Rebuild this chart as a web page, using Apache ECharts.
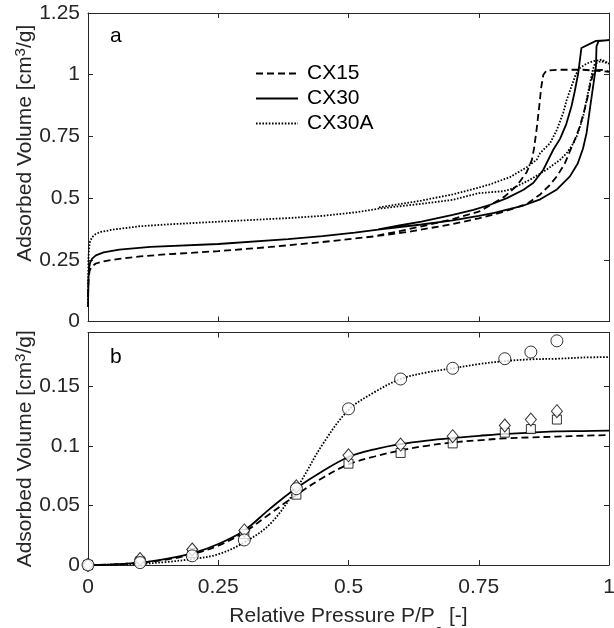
<!DOCTYPE html>
<html><head><meta charset="utf-8">
<script src="https://cdn.jsdelivr.net/npm/echarts@6/dist/echarts.min.js"></script>
<style>html,body{margin:0;padding:0;background:#fff}#c{width:614px;height:628px}</style>
</head><body><div id="c"></div>
<script>
// ---- Panel a: isotherms [P/P0, volume] (adsorption then desorption) ----
const cx15Ads = [[0,0.10],[0.001,0.17],[0.003,0.205],[0.007,0.222],[0.015,0.235],[0.03,0.244],[0.06,0.254],[0.1,0.264],[0.15,0.272],[0.25,0.285],[0.35,0.302],[0.45,0.322],[0.55,0.345],[0.62,0.365],[0.70,0.395],[0.75,0.418],[0.79,0.44],[0.82,0.46],[0.845,0.48],[0.868,0.515],[0.885,0.55],[0.90,0.588],[0.915,0.64],[0.925,0.69],[0.935,0.74],[0.944,0.79],[0.952,0.85],[0.958,0.90],[0.964,0.96],[0.969,1.0],[0.975,1.018],[0.99,1.02],[1.0,1.012]];
const cx15Des = [[1.0,1.02],[0.95,1.02],[0.90,1.02],[0.88,1.017],[0.874,1.0],[0.87,0.95],[0.866,0.87],[0.861,0.777],[0.856,0.70],[0.852,0.655],[0.842,0.605],[0.823,0.55],[0.80,0.507],[0.775,0.475],[0.75,0.445],[0.70,0.415],[0.65,0.39],[0.60,0.367],[0.55,0.346]];
const cx30Ads = [[0,0.06],[0.001,0.18],[0.002,0.215],[0.004,0.238],[0.008,0.255],[0.015,0.268],[0.03,0.28],[0.06,0.291],[0.12,0.302],[0.25,0.314],[0.384,0.334],[0.45,0.346],[0.512,0.36],[0.557,0.372],[0.64,0.393],[0.70,0.41],[0.75,0.428],[0.78,0.44],[0.81,0.456],[0.836,0.47],[0.868,0.495],[0.90,0.535],[0.925,0.588],[0.94,0.64],[0.95,0.7],[0.957,0.764],[0.964,0.872],[0.970,0.96],[0.975,1.034],[0.976,1.115],[0.98,1.136],[1.0,1.14]];
const cx30Des = [[1.0,1.14],[0.975,1.137],[0.947,1.108],[0.941,1.007],[0.934,0.93],[0.928,0.872],[0.918,0.80],[0.906,0.74],[0.893,0.696],[0.874,0.615],[0.855,0.562],[0.836,0.534],[0.804,0.50],[0.772,0.473],[0.74,0.452],[0.70,0.432],[0.64,0.405],[0.60,0.39],[0.557,0.373]];
const cx30aAds = [[0,0.06],[0.0008,0.25],[0.002,0.30],[0.004,0.325],[0.008,0.342],[0.015,0.355],[0.025,0.363],[0.05,0.373],[0.1,0.386],[0.15,0.393],[0.255,0.405],[0.384,0.419],[0.45,0.428],[0.512,0.442],[0.557,0.457],[0.64,0.477],[0.70,0.493],[0.75,0.52],[0.797,0.528],[0.81,0.535],[0.83,0.555],[0.848,0.574],[0.88,0.615],[0.906,0.655],[0.919,0.683],[0.931,0.72],[0.938,0.75],[0.946,0.80],[0.952,0.845],[0.958,0.91],[0.964,0.97],[0.969,1.02],[0.973,1.045],[0.985,1.055],[1.0,1.045]];
const cx30aDes = [[1.0,1.05],[0.986,1.061],[0.969,1.054],[0.957,1.045],[0.944,1.027],[0.936,1.0],[0.928,0.953],[0.919,0.899],[0.912,0.845],[0.90,0.777],[0.887,0.723],[0.868,0.683],[0.861,0.655],[0.842,0.625],[0.81,0.585],[0.772,0.556],[0.746,0.54],[0.70,0.515],[0.64,0.49],[0.557,0.462]];

// ---- Panel b: measured points and fits ----
const pointP   = [0,0.1,0.2,0.3,0.4,0.5,0.6,0.7,0.8,0.85,0.9];
const cx15Pts  = [0,0.003,0.010,0.026,0.059,0.085,0.094,0.102,0.111,0.114,0.122];
const cx30Pts  = [0,0.005,0.013,0.029,0.066,0.092,0.101,0.108,0.117,0.122,0.129];
const cx30aPts = [0,0.002,0.0077,0.021,0.064,0.131,0.156,0.165,0.173,0.1786,0.188];
const fitP     = [0,0.05,0.1,0.15,0.2,0.25,0.3,0.35,0.4,0.45,0.5,0.55,0.6,0.65,0.7,0.75,0.8,0.85,0.9,0.95,1.0];
const cx15Fit  = [0,0.0005,0.002,0.0045,0.009,0.0162,0.0276,0.0432,0.0588,0.073,0.0844,0.091,0.0962,0.1,0.1028,0.1046,0.1062,0.107,0.1077,0.1084,0.109];
const cx30Fit  = [0,0.0006,0.002,0.0052,0.0097,0.0176,0.029,0.0475,0.0645,0.0787,0.0906,0.097,0.1013,0.1043,0.1065,0.1083,0.110,0.111,0.112,0.1123,0.1127];
const cx30aFit = [0,0.0003,0.0009,0.0025,0.005,0.009,0.019,0.0346,0.064,0.101,0.130,0.145,0.156,0.1615,0.165,0.1685,0.171,0.1725,0.173,0.174,0.1744];

const seriesNames = ['CX15','CX30','CX30A'];
const FONT = 'Liberation Sans, Arial, Helvetica, sans-serif';
const AX = '#262626';
const zip = (xs, ys) => xs.map((x, i) => [x, ys[i]]);

const chart = echarts.init(document.getElementById('c'), null, {renderer: 'canvas'});

function xAx(grid, pos, labels) {
  return {gridIndex: grid, type: 'value', min: 0, max: 1, interval: 0.25, position: pos,
    axisLine: {show: true, onZero: false, lineStyle: {color: AX, width: 1}},
    axisTick: {show: true, inside: true, length: 5, lineStyle: {color: AX}},
    axisLabel: {show: labels, color: AX, fontFamily: FONT, fontSize: 21, margin: 12},
    splitLine: {show: false}};
}
function yAx(grid, pos, max, interval, labels, showMax, name, pad) {
  const a = {gridIndex: grid, type: 'value', min: 0, max: max, interval: interval, position: pos,
    axisLine: {show: true, onZero: false, lineStyle: {color: AX, width: 1}},
    axisTick: {show: true, inside: true, length: 5, lineStyle: {color: AX}},
    axisLabel: {show: labels, color: AX, fontFamily: FONT, fontSize: 21, margin: 8, showMaxLabel: showMax},
    splitLine: {show: false}};
  if (name) {
    a.name = name;
    a.nameLocation = 'middle';
    a.nameGap = 50;
    a.nameMoveOverlap = false;
    a.nameTextStyle = {color: AX, fontFamily: FONT, fontSize: 21, padding: pad,
      rich: {sup: {fontFamily: FONT, fontSize: 15, color: AX, padding: [0, 0, 10, 0]}}};
  }
  return a;
}
const yName = 'Adsorbed Volume [cm{sup|3}/g]';

const lineStyles = [
  {color: '#000', width: 1.8, type: [7, 4]},
  {color: '#000', width: 1.8, type: 'solid'},
  {color: '#000', width: 1.8, type: [1.6, 1.6]}
];

const topData = [cx15Ads.concat(cx15Des), cx30Ads.concat(cx30Des), cx30aAds.concat(cx30aDes)];
const fits = [cx15Fit, cx30Fit, cx30aFit];
const pts = [cx15Pts, cx30Pts, cx30aPts];
const syms = [['rect', 9], ['diamond', [11, 13]], ['circle', 12]];

const series = [];
seriesNames.forEach((n, i) => {
  series.push({type: 'line', name: n, xAxisIndex: 0, yAxisIndex: 0, data: topData[i],
    symbol: 'none', showSymbol: false, color: '#000', itemStyle: {color: '#000'},
    lineStyle: lineStyles[i], z: 3, silent: true});
});
seriesNames.forEach((n, i) => {
  series.push({type: 'line', name: n + ' fit', xAxisIndex: 2, yAxisIndex: 2, data: zip(fitP, fits[i]),
    symbol: 'none', showSymbol: false, smooth: 0.35, lineStyle: lineStyles[i], z: 3, silent: true});
});
seriesNames.forEach((n, i) => {
  series.push({type: 'scatter', name: n + ' data', xAxisIndex: 2, yAxisIndex: 2, data: zip(pointP, pts[i]),
    symbol: syms[i][0], symbolSize: syms[i][1],
    itemStyle: {color: '#fff', borderColor: '#000', borderWidth: 1}, z: 4 + i, silent: true});
});

chart.setOption({
  animation: false,
  backgroundColor: '#fff',
  grid: [
    {left: 88, top: 13, width: 521, height: 308.5, outerBoundsMode: 'none', containLabel: false},
    {left: 88, top: 332.5, width: 521, height: 232.5, outerBoundsMode: 'none', containLabel: false}
  ],
  xAxis: [
    xAx(0, 'bottom', false), xAx(0, 'top', false),
    Object.assign(xAx(1, 'bottom', true), {
      name: 'Relative Pressure P/P{sub|0} [-]', nameLocation: 'middle', nameGap: 40.5,
      nameMoveOverlap: false,
      nameTextStyle: {color: AX, fontFamily: FONT, fontSize: 21, lineHeight: 21,
        rich: {sub: {fontFamily: FONT, fontSize: 15, color: AX, padding: [34, 0, 0, 0]}}}
    }),
    xAx(1, 'top', false)
  ],
  yAxis: [
    yAx(0, 'left', 1.25, 0.25, true, true, yName, [0, 0, 0, 48]),
    yAx(0, 'right', 1.25, 0.25, false, true),
    yAx(1, 'left', 0.195, 0.05, true, false, yName, [0, 0, 0, 0]),
    yAx(1, 'right', 0.195, 0.05, false, false)
  ],
  legend: {
    data: seriesNames, orient: 'vertical', left: 250, top: 58,
    itemWidth: 42, itemHeight: 14, itemGap: 4,
    itemStyle: {color: 'rgba(0,0,0,0)', borderColor: 'rgba(0,0,0,0)', borderWidth: 0, opacity: 0},
    textStyle: {color: '#000', fontFamily: FONT, fontSize: 21, lineHeight: 21, padding: [0, 0, 0, 4]},
    selectedMode: false
  },
  graphic: [
    {type: 'text', left: 110, top: 26, style: {text: 'a', fill: '#000', font: '21px ' + FONT}},
    {type: 'text', left: 110, top: 347, style: {text: 'b', fill: '#000', font: '21px ' + FONT}}
  ],
  series: series
});
</script>
</body></html>
